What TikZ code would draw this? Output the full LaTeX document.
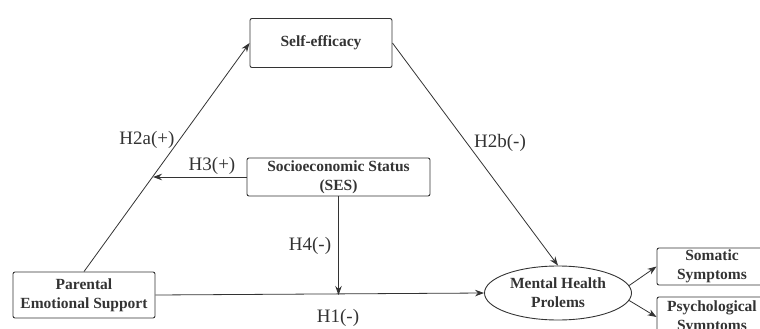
\documentclass[tikz,border=0pt]{standalone}
\usepackage{fontspec}
\setmainfont{Liberation Serif}
\usetikzlibrary{arrows.meta,shapes.geometric}

\tikzset{
  varbox/.style={draw=black!80, rounded corners=2pt, line width=0.9pt, align=center,
    inner sep=0pt, text=black!80, font=\fontsize{15.5}{19}\selectfont\bfseries},
  varoval/.style={draw=black!80, ellipse, line width=0.9pt, align=center,
    inner sep=0pt, text=black!80, font=\fontsize{15.5}{19}\selectfont\bfseries},
  hyp/.style={text=black!80, inner sep=0pt, font=\fontsize{19}{21}\selectfont},
  hyparrow/.style={draw=black!80, line width=0.8pt, -{Stealth[length=9pt,width=6.5pt]}}
}

\begin{document}
\begin{tikzpicture}[x=1pt,y=-1pt]
    \useasboundingbox (0,0) rectangle (760,329);
    % variables
    \node[varbox, minimum width=142pt, minimum height=46pt] (par) at (84,295) {Parental\\Emotional Support};
    \node[varbox, minimum width=142pt, minimum height=49pt] (self) at (321,43) {Self-efficacy};
    \node[varbox, minimum width=183pt, minimum height=38pt] (ses) at (338.5,177) {Socioeconomic Status\\(SES)};
    \node[varoval, minimum width=147pt, minimum height=54pt] (mhp) at (558,293) {Mental Health\\Prolems};
    \node[varbox, minimum width=110pt, minimum height=37pt] (som) at (712,266.5) {Somatic\\Symptoms};
    \node[varbox, minimum width=110pt, minimum height=40pt] (psy) at (712,317) {Psychological\\Symptoms};
    \coordinate (h3end) at (153,177);
        % paths
        \draw[hyparrow] (par.north) -- (self.west);
        \draw[hyparrow] (self.east) -- (mhp.north);
        \draw[hyparrow] (ses.west) -- (h3end);
        \draw[hyparrow] (ses.south) -- (ses.south |- par.east);
        \draw[hyparrow] (par.east) -- (mhp.west);
        \draw[hyparrow] (mhp.6) -- (som.west);
        \draw[hyparrow] (mhp.-6) -- (psy.west);
    % hypotheses
    \node[hyp] (h2a) at (147,140) {H2a(+)};
    \node[hyp] (h2b) at (500,143) {H2b(-)};
    \node[hyp] (h3) at (212,166) {H3(+)};
    \node[hyp] (h4) at (310,246) {H4(-)};
    \node[hyp] (h1) at (338,318) {H1(-)};
\end{tikzpicture}
\end{document}
